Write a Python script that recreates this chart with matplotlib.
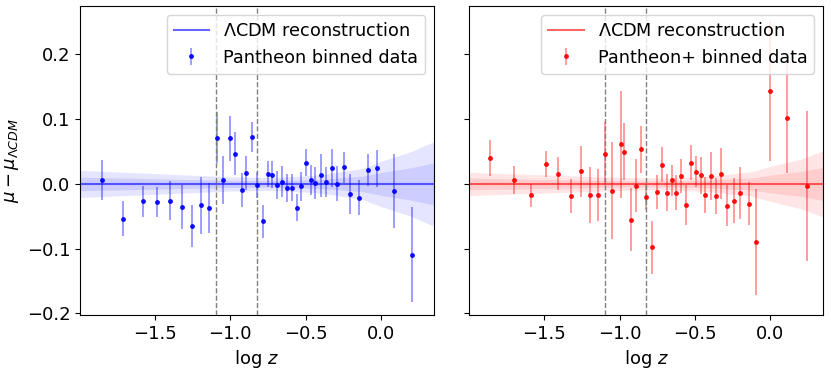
import matplotlib
matplotlib.use('Agg')
import matplotlib.pyplot as plt


# Pantheon binned residuals (left panel)
logz_p = [-1.854, -1.712, -1.580, -1.485, -1.403, -1.323, -1.252, -1.195, -1.142, -1.091,
          -1.051, -1.002, -0.971, -0.923, -0.894, -0.856, -0.821, -0.785, -0.752, -0.721,
          -0.688, -0.655, -0.622, -0.593, -0.560, -0.529, -0.496, -0.465, -0.434, -0.396,
          -0.363, -0.327, -0.288, -0.243, -0.204, -0.144, -0.088, -0.024, 0.0885, 0.206]
dmu_p = [0.0067, -0.0536, -0.027, -0.028, -0.026, -0.036, -0.065, -0.033, -0.037, 0.0717,
         0.0057, 0.0706, 0.047, -0.0098, 0.017, 0.072, -0.002, -0.058, 0.016, 0.0144,
         -0.0015, 0.0036, -0.006, -0.006, -0.0366, -0.0036, 0.033, 0.0057, 0.0015, 0.0134,
         0.0036, 0.025, 0.0, 0.026, -0.015, -0.021, 0.0216, 0.024, -0.011, -0.109]
err_p = [0.031, 0.0265, 0.024, 0.0235, 0.030, 0.034, 0.032, 0.044, 0.039, 0.040,
         0.037, 0.035, 0.033, 0.026, 0.026, 0.023, 0.02, 0.026, 0.02, 0.021,
         0.021, 0.024, 0.022, 0.021, 0.021, 0.022, 0.021, 0.023, 0.024, 0.033,
         0.023, 0.029, 0.027, 0.024, 0.031, 0.027, 0.024, 0.028, 0.057, 0.073]

# Pantheon+ binned residuals (right panel)
logz_pp = [-1.861, -1.704, -1.586, -1.489, -1.407, -1.323, -1.257, -1.197, -1.144, -1.095,
           -1.049, -0.993, -0.971, -0.923, -0.894, -0.856, -0.823, -0.788, -0.752, -0.719,
           -0.688, -0.655, -0.622, -0.591, -0.560, -0.527, -0.493, -0.462, -0.431, -0.392,
           -0.361, -0.325, -0.285, -0.243, -0.201, -0.142, -0.095, 0.0, 0.115, 0.248]
dmu_pp = [0.0397, 0.0057, -0.0175, 0.031, 0.016, -0.0186, 0.0196, -0.017, -0.0165, 0.047,
          -0.0103, 0.061, 0.0495, -0.055, -0.0026, 0.0536, -0.0196, -0.098, -0.0124, 0.030,
          -0.0134, 0.0057, -0.0134, 0.0124, -0.0325, 0.0325, 0.019, 0.0134, -0.0165, 0.0124,
          -0.0186, 0.016, -0.0335, -0.0258, -0.0139, -0.0304, -0.0897, 0.143, 0.1026, -0.0026]
err_pp = [0.028, 0.022, 0.018, 0.020, 0.025, 0.027, 0.039, 0.043, 0.040, 0.048,
          0.075, 0.082, 0.044, 0.048, 0.041, 0.036, 0.02, 0.041, 0.026, 0.027,
          0.028, 0.024, 0.027, 0.026, 0.031, 0.027, 0.024, 0.029, 0.028, 0.037,
          0.028, 0.040, 0.032, 0.035, 0.040, 0.0335, 0.082, 0.107, 0.0856, 0.116]

# reconstruction mean and 1 sigma width at a few log z knots
recon_x = [-2.0, -1.5, -1.0, -0.7, -0.4, -0.12, 0.0, 0.2, 0.36]
recon_mean = [0, 0, 0, 0, 0, 0, 0, 0, 0]
sig_p = [0.0105, 0.008, 0.0055, 0.005, 0.007, 0.012, 0.0174, 0.025, 0.033]
sig_pp = [0.009, 0.007, 0.005, 0.0045, 0.006, 0.0095, 0.0135, 0.019, 0.026]

vlines = [-1.097, -0.824]

plt.rcParams['font.size'] = 13

fig, axes = plt.subplots(1, 2, figsize=(8.31, 3.72), dpi=100, sharey=True)
fig.subplots_adjust(left=0.0963, right=0.9907, bottom=0.153, top=0.984, wspace=0.1)

panels = [
    (axes[0], logz_p, dmu_p, err_p, sig_p, 'blue', 'Pantheon binned data'),
    (axes[1], logz_pp, dmu_pp, err_pp, sig_pp, 'red', 'Pantheon+ binned data'),
]

for ax, x, y, e, sig, col, lab in panels:
    lo1 = [m - s for m, s in zip(recon_mean, sig)]
    hi1 = [m + s for m, s in zip(recon_mean, sig)]
    lo2 = [m - 2 * s for m, s in zip(recon_mean, sig)]
    hi2 = [m + 2 * s for m, s in zip(recon_mean, sig)]
    ax.fill_between(recon_x, lo2, hi2, color=col, alpha=0.1, lw=0)
    ax.fill_between(recon_x, lo1, hi1, color=col, alpha=0.1, lw=0)
    ax.plot(recon_x, recon_mean, color=col, alpha=0.6, lw=1.5, label=r'$\Lambda$CDM reconstruction')
    eb = ax.errorbar(x, y, yerr=e, fmt='o', ms=2.5, color=col, ecolor=col,
                     elinewidth=1.2, alpha=0.9, label=lab)
    # lighter error bar lines
    for lc in eb[2]:
        lc.set_alpha(0.45)
    for v in vlines:
        ax.axvline(v, color='gray', ls='--', lw=1)
    ax.set_xlim(-1.998, 0.353)
    ax.set_ylim(-0.2026, 0.275)
    ax.set_xlabel(r'$\log\, z$')
    ax.legend(loc='upper right', fontsize=12.7)

axes[0].set_yticks([-0.2, -0.1, 0.0, 0.1, 0.2])
axes[0].set_ylabel(r'$\mu-\mu_{\Lambda CDM}$')

plt.savefig('out.png', dpi=100)
